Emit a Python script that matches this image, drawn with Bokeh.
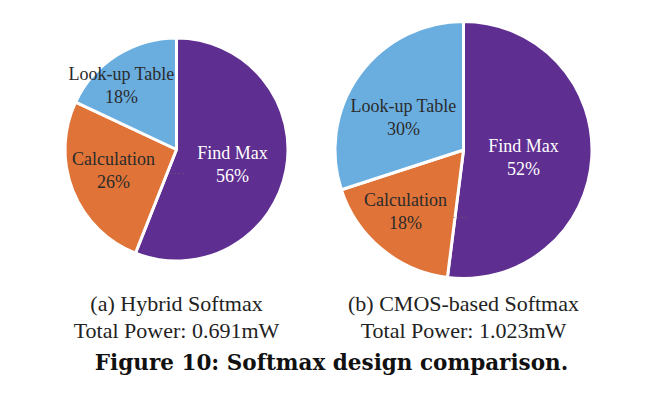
import math
from bokeh.plotting import figure
from bokeh.models import Range1d
from bokeh.core.properties import value
from bokeh.embed import file_html
from bokeh.resources import INLINE

# ---- data ----
categories = ["Find Max", "Calculation", "Look-up Table"]
hybrid_pct = [56, 26, 18]
cmos_pct = [52, 18, 30]
subtitles = ["(a) Hybrid Softmax", "(b) CMOS-based Softmax"]
powers = ["Total Power: 0.691mW", "Total Power: 1.023mW"]
caption = "Figure 10: Softmax design comparison."

# ---- styles / layout ----
colors = ["#5F2E91", "#E07438", "#6AAEE0"]
label_colors = ["#FFFFFF", "#2B2B2B", "#2B2B2B"]
W, H = 638, 378


def fy(py):  # screen y -> data y
    return H - py


def fx(px):
    return px


pies = [
    dict(values=hybrid_pct, cx=176, cy=149, r=110,
         labels=[(232, 152), (113, 158), (121, 73)], dots=(170, 183, 173),
         sub_x=176),
    dict(values=cmos_pct, cx=463, cy=149.5, r=127,
         labels=[(523, 145), (405, 199), (403, 105)], dots=(453, 468, 217),
         sub_x=463),
]

p = figure(width=W, height=H, x_range=Range1d(0, W), y_range=Range1d(0, H),
           output_backend="svg", toolbar_location=None,
           x_axis_type=None, y_axis_type=None, min_border=0)
p.outline_line_color = None
p.grid.visible = False
p.background_fill_color = "white"
p.border_fill_color = "white"

serif = value("Liberation Serif")

for pie, sub, pw in zip(pies, subtitles, powers):
    vals = pie["values"]
    total = float(sum(vals))
    cum = 0.0
    starts, ends = [], []
    for v in vals:
        starts.append(math.pi / 2 - 2 * math.pi * cum / total)
        cum += v
        ends.append(math.pi / 2 - 2 * math.pi * cum / total)
    n = len(vals)
    p.wedge(x=[fx(pie["cx"])] * n, y=[fy(pie["cy"])] * n, radius=pie["r"] + 1.5,
            start_angle=starts, end_angle=ends, direction="clock",
            fill_color=colors, line_color="white", line_width=3)
    # leader dots
    x0, x1, yd = pie["dots"]
    p.line(x=[fx(x0), fx(x1)], y=[fy(yd), fy(yd)], line_color="#666666",
           line_width=1, line_dash="1 3")
    # labels
    for (lx, ly), cat, v, lc in zip(pie["labels"], categories, vals, label_colors):
        p.text(x=[fx(lx)], y=[fy(ly)], text=[cat], text_align="center",
               text_baseline="middle", text_font=serif, text_font_size="18px",
               text_color=lc)
        p.text(x=[fx(lx)], y=[fy(ly + 23)], text=[f"{v}%"], text_align="center",
               text_baseline="middle", text_font=serif, text_font_size="18px",
               text_color=lc)
    p.text(x=[fx(pie["sub_x"])], y=[fy(303)], text=[sub], text_align="center",
           text_baseline="middle", text_font=serif, text_font_size="22px",
           text_color="#222222")
    p.text(x=[fx(pie["sub_x"])], y=[fy(330)], text=[pw], text_align="center",
           text_baseline="middle", text_font=serif, text_font_size="22px",
           text_color="#222222")

p.text(x=[fx(331)], y=[fy(362)], text=[caption], text_align="center",
       text_baseline="middle", text_font=value("DejaVu Serif"),
       text_font_style="bold", text_font_size="21.5px", text_color="#111111")

open("out.html", "w").write(file_html(p, INLINE))
